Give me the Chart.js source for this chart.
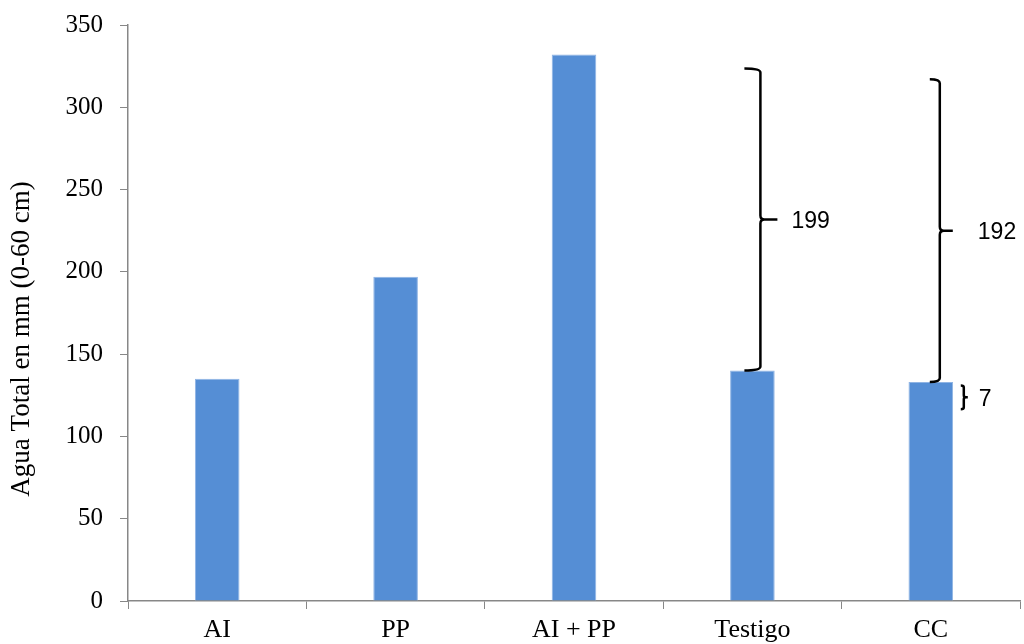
<!DOCTYPE html>
<html>
<head>
<meta charset="utf-8">
<script src="https://cdn.jsdelivr.net/npm/chart.js"></script>
<style>
  html, body { margin: 0; padding: 0; background: #fff; }
  #wrap { width: 1024px; height: 644px; position: relative; }
</style>
</head>
<body>
<div id="wrap"><canvas id="chart"></canvas></div>
<script>
// data
const categories = ['AI', 'PP', 'AI + PP', 'Testigo', 'CC'];
const aguaTotal = [135, 197, 332, 140, 133];
const yTicks = [0, 50, 100, 150, 200, 250, 300, 350];

// brace annotations: which bar, from / to (axis units), label
const braceBar = [3, 4, 4];
const braceFrom = [140, 133, 116.5];
const braceTo = [323.5, 317, 131];
const braceText = ['199', '192', '7'];

// drawing style of the braces (pixels)
const braceStyle = [
    { dx: 8, hook: 16, tip: 17, r: 4, labelDx: 31 },
    { dx: 9, hook: 10, tip: 13, r: 4, labelDx: 38 },
    { dx: 33, hook: 3, tip: 4, r: 2, labelDx: 15 }
];

const axisGrey = '#878787';
const serif = "'Liberation Serif', 'Times New Roman', serif";

function drawBrace(ctx, x, yTop, yBot, s) {
    const yMid = (yTop + yBot) / 2;
    const r = Math.min(s.r, (yBot - yTop) / 4);
    ctx.beginPath();
    ctx.moveTo(x - s.hook, yTop);
    ctx.quadraticCurveTo(x, yTop, x, yTop + r);
    ctx.lineTo(x, yMid - r);
    ctx.quadraticCurveTo(x, yMid, x + r, yMid);
    ctx.lineTo(x + s.tip, yMid);
    ctx.moveTo(x + r, yMid);
    ctx.quadraticCurveTo(x, yMid, x, yMid + r);
    ctx.lineTo(x, yBot - r);
    ctx.quadraticCurveTo(x, yBot, x - s.hook, yBot);
    ctx.stroke();
}

const bracePlugin = {
    id: 'braces',
    afterDatasetsDraw(chart) {
        const ctx = chart.ctx;
        const xs = chart.scales.x, ys = chart.scales.y;
        ctx.save();
        ctx.strokeStyle = '#000';
        ctx.lineWidth = 2.5;
        ctx.lineCap = 'butt';
        ctx.fillStyle = '#000';
        ctx.font = "23px 'Liberation Sans', Arial, sans-serif";
        ctx.textBaseline = 'middle';
        braceBar.forEach((b, i) => {
            const s = braceStyle[i];
            const x = xs.getPixelForValue(b) + s.dx;
            const yTop = ys.getPixelForValue(braceTo[i]);
            const yBot = ys.getPixelForValue(braceFrom[i]);
            drawBrace(ctx, x, yTop, yBot, s);
            ctx.fillText(braceText[i], x + s.labelDx, (yTop + yBot) / 2 + 2);
        });
        ctx.restore();
    }
};

const yTitlePlugin = {
    id: 'ytitle',
    afterDraw(chart) {
        const ctx = chart.ctx;
        ctx.save();
        ctx.translate(22, 339);
        ctx.rotate(-Math.PI / 2);
        ctx.fillStyle = '#000';
        ctx.font = '27px ' + serif;
        ctx.textAlign = 'center';
        ctx.textBaseline = 'middle';
        ctx.fillText('Agua Total en mm (0-60 cm)', 0, 0);
        ctx.restore();
    }
};

new Chart(document.getElementById('chart').getContext('2d'), {
    type: 'bar',
    data: {
        labels: categories,
        datasets: [{
            data: aguaTotal,
            backgroundColor: '#558ed5',
            borderColor: '#8fb4e4',
            borderWidth: 1,
            barPercentage: 0.25,
            categoryPercentage: 1
        }]
    },
    options: {
        responsive: true,
        maintainAspectRatio: false,
        animation: false,
        layout: { padding: { top: 25, right: 4, left: 0, bottom: 0 } },
        plugins: { legend: { display: false }, tooltip: { enabled: false } },
        scales: {
            x: {
                grid: { display: true, drawOnChartArea: false, tickLength: 8, color: axisGrey, offset: true },
                border: { color: axisGrey, width: 1.5 },
                ticks: { color: '#000', font: { family: serif, size: 26 }, padding: 6, maxRotation: 0 },
                afterFit(scale) { scale.height = 43; scale.paddingLeft = 0; scale.paddingRight = 0; }
            },
            y: {
                min: 0,
                max: 350,
                afterBuildTicks(scale) { scale.ticks = yTicks.map(v => ({ value: v })); },
                grid: { display: true, drawOnChartArea: false, tickLength: 8, color: axisGrey },
                border: { color: axisGrey, width: 1.5 },
                ticks: { color: '#000', font: { family: serif, size: 25 }, padding: 17 },
                afterFit(scale) { scale.width = 128; scale.paddingTop = 0; scale.paddingBottom = 0; }
            }
        }
    },
    plugins: [bracePlugin, yTitlePlugin]
});
</script>
</body>
</html>
